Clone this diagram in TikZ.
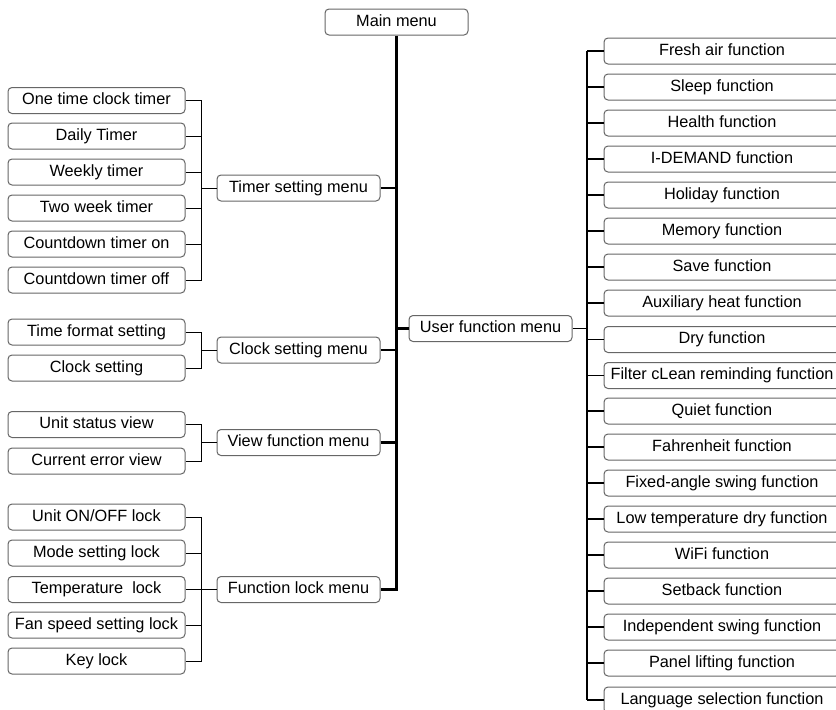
\documentclass[tikz,border=0pt]{standalone}
\usepackage{fontspec}
\setmainfont{Liberation Sans}
\begin{document}
\begin{tikzpicture}[x=1pt,y=-1pt,
  box/.style={draw=black!60, line width=1pt, rounded corners=4pt, minimum height=26pt, inner sep=0pt,
    font=\fontsize{16.3}{19}\selectfont, text height=11.8pt, text depth=3.4pt, fill=white},
  leafL/.style={box, minimum width=177pt},
  menu/.style={box, minimum width=163pt},
  leafR/.style={box, minimum width=236pt},
  thin/.style={line width=1pt, black},
  thickl/.style={line width=2.6pt, black},
  busl/.style={line width=1.6pt, black},
  stub/.style={line width=1.3pt, black}]
\useasboundingbox (0,0) rectangle (836,710);
\clip (0,0) rectangle (836,710);

% main
\node[box, minimum width=143pt] (main) at (396.5,22) {Main menu};

% menus
\node[menu] (timer) at (298.5,188) {Timer setting menu};
\node[menu] (clock) at (298.5,350) {Clock setting menu};
\node[menu] (view) at (298.5,442.5) {View function menu};
\node[menu] (flock) at (298.5,589.5) {Function lock menu};
\node[menu] (user) at (490.5,328.5) {User function menu};

% timer items
\node[leafL] (t1) at (96.5,100.5) {One time clock timer};
\node[leafL] (t2) at (96.5,136) {Daily Timer};
\node[leafL] (t3) at (96.5,172) {Weekly timer};
\node[leafL] (t4) at (96.5,208) {Two week timer};
\node[leafL] (t5) at (96.5,244) {Countdown timer on};
\node[leafL] (t6) at (96.5,280) {Countdown timer off};
% clock items
\node[leafL] (c1) at (96.5,332) {Time format setting};
\node[leafL] (c2) at (96.5,368) {Clock setting};
% view items
\node[leafL] (v1) at (96.5,424.5) {Unit status view};
\node[leafL] (v2) at (96.5,461) {Current error view};
% lock items
\node[leafL] (l1) at (96.5,517) {Unit ON/OFF lock};
\node[leafL] (l2) at (96.5,553) {Mode setting lock};
\node[leafL] (l3) at (96.5,589.5) {Temperature~\ lock};
\node[leafL] (l4) at (96.5,625) {Fan speed setting lock};
\node[leafL] (l5) at (96.5,661) {Key lock};

% right items
\node[leafR] (r1) at (722,51) {Fresh air function};
\node[leafR] (r2) at (722,87) {Sleep function};
\node[leafR] (r3) at (722,123) {Health function};
\node[leafR] (r4) at (722,159) {I-DEMAND function};
\node[leafR] (r5) at (722,195) {Holiday function};
\node[leafR] (r6) at (722,231) {Memory function};
\node[leafR] (r7) at (722,267) {Save function};
\node[leafR] (r8) at (722,303) {Auxiliary heat function};
\node[leafR] (r9) at (722,339.5) {Dry function};
\node[leafR] (r10) at (722,375.5) {Filter cLean reminding function};
\node[leafR] (r11) at (722,411) {Quiet function};
\node[leafR] (r12) at (722,447) {Fahrenheit function};
\node[leafR] (r13) at (722,483) {Fixed-angle swing function};
\node[leafR] (r14) at (722,519) {Low temperature dry function};
\node[leafR] (r15) at (722,555) {WiFi function};
\node[leafR] (r16) at (722,591) {Setback function};
\node[leafR] (r17) at (722,627) {Independent swing function};
\node[leafR] (r18) at (722,663) {Panel lifting function};
\node[leafR] (r19) at (722,700) {Language selection function};

% bracket coordinates
\coordinate (tb) at (201.5,188);
\coordinate (cb) at (201.5,350);
\coordinate (vb) at (201.5,442.5);
\coordinate (lb) at (201.5,589.5);
\coordinate (rb) at (587,328.5);

\begin{scope}[on background layer/.try]
\end{scope}

% trunk
\draw[thickl] (main.south) -- (main.south |- flock.east) -- (flock.east);
\draw[thickl] (timer.east) -- (timer.east -| main.south);
\draw[thickl] (clock.east) -- (clock.east -| main.south);
\draw[thickl] (view.east) -- (view.east -| main.south);
\draw[thickl] (user.west) -- (user.west -| main.south);

% left brackets
\foreach \n in {t1,t2,t3,t4,t5,t6} \draw[thin] (\n.east) -| (tb);
\draw[thin] (tb) -- (timer.west);
\foreach \n in {c1,c2} \draw[thin] (\n.east) -| (cb);
\draw[thin] (cb) -- (clock.west);
\foreach \n in {v1,v2} \draw[thin] (\n.east) -| (vb);
\draw[thin] (vb) -- (view.west);
\foreach \n in {l1,l2,l3,l4,l5} \draw[thin] (\n.east) -| (lb);
\draw[thin] (lb) -- (flock.west);

% right bus
\draw[stub] (user.east) -- (rb);
\draw[busl] (r1.west -| rb) -- (r19.west -| rb);
\foreach \n in {r1,r2,r3,r4,r5,r6,r7,r8,r9,r10,r11,r12,r13,r14,r15,r16,r17,r18,r19}
  \draw[stub] (\n.west) -- (\n.west -| rb);
\end{tikzpicture}
\end{document}
